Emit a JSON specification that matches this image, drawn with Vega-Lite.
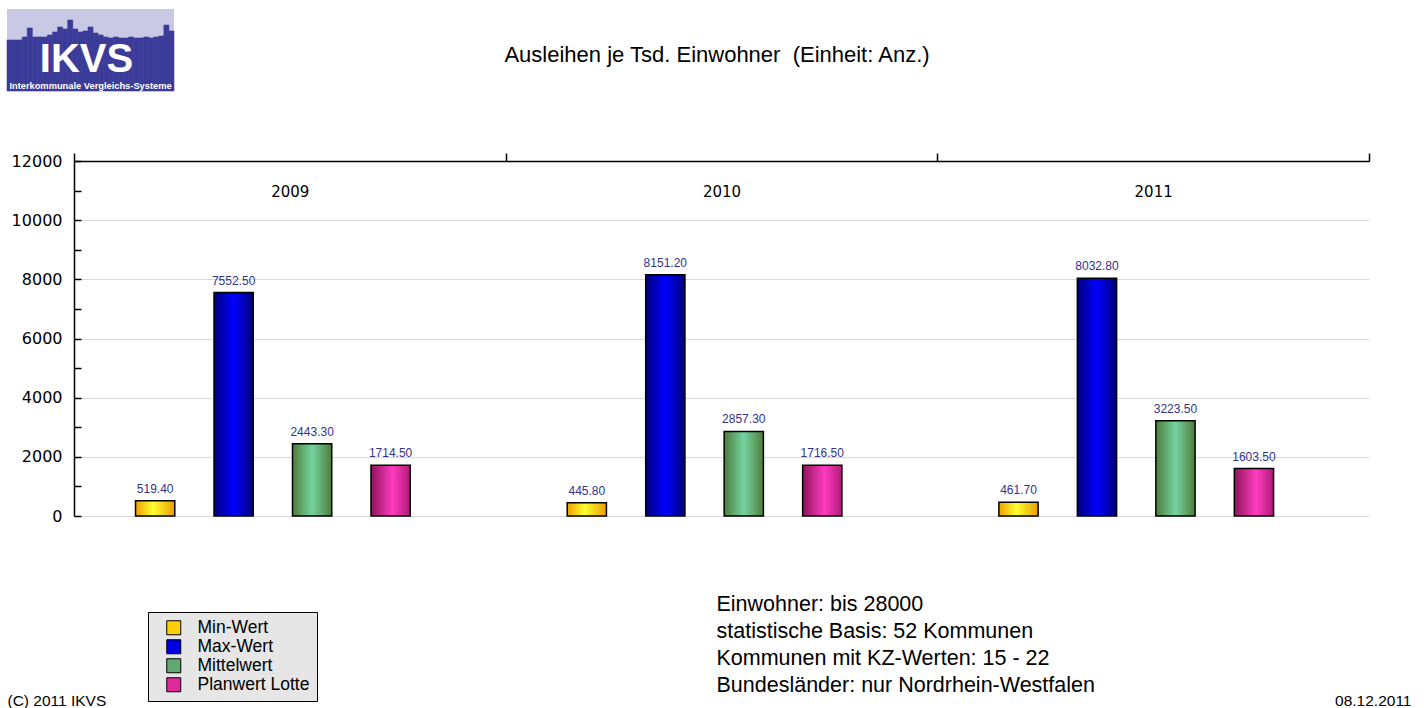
{
  "$schema": "https://vega.github.io/schema/vega-lite/v6.json",
  "padding": {"left": 6, "top": 9, "right": 0, "bottom": 0},
  "background": "white",
  "spacing": 60,
  "config": {"view": {"stroke": null}, "font": "Liberation Sans"},
  "vconcat": [
    {
      "spacing": 0,
      "hconcat": [
        {
          "width": 167,
          "height": 82,
          "view": {"fill": "#c9c9e6", "stroke": null},
          "layer": [
            {
              "data": {"values": [
                {"Spalte": 0, "Hoehe": 51}, {"Spalte": 1, "Hoehe": 51}, {"Spalte": 2, "Hoehe": 51},
                {"Spalte": 3, "Hoehe": 54}, {"Spalte": 4, "Hoehe": 63}, {"Spalte": 5, "Hoehe": 54},
                {"Spalte": 6, "Hoehe": 54}, {"Spalte": 7, "Hoehe": 54}, {"Spalte": 8, "Hoehe": 56},
                {"Spalte": 9, "Hoehe": 59}, {"Spalte": 10, "Hoehe": 64}, {"Spalte": 11, "Hoehe": 62},
                {"Spalte": 12, "Hoehe": 71}, {"Spalte": 13, "Hoehe": 62}, {"Spalte": 14, "Hoehe": 59},
                {"Spalte": 15, "Hoehe": 60}, {"Spalte": 16, "Hoehe": 64}, {"Spalte": 17, "Hoehe": 58},
                {"Spalte": 18, "Hoehe": 56}, {"Spalte": 19, "Hoehe": 54}, {"Spalte": 20, "Hoehe": 53},
                {"Spalte": 21, "Hoehe": 54}, {"Spalte": 22, "Hoehe": 53}, {"Spalte": 23, "Hoehe": 53},
                {"Spalte": 24, "Hoehe": 54}, {"Spalte": 25, "Hoehe": 53}, {"Spalte": 26, "Hoehe": 53},
                {"Spalte": 27, "Hoehe": 54}, {"Spalte": 28, "Hoehe": 53}, {"Spalte": 29, "Hoehe": 54},
                {"Spalte": 30, "Hoehe": 55}, {"Spalte": 31, "Hoehe": 66}, {"Spalte": 32, "Hoehe": 60}
              ]},
              "mark": {"type": "bar", "color": "#3b3b99", "stroke": "#3b3b99", "strokeWidth": 0.6},
              "encoding": {
                "x": {"field": "Spalte", "type": "ordinal", "axis": null, "scale": {"paddingInner": 0, "paddingOuter": 0}},
                "y": {"field": "Hoehe", "type": "quantitative", "axis": null, "scale": {"domain": [0, 82], "nice": false}}
              }
            },
            {
              "data": {"values": [{"Zeile": "IKVS"}]},
              "mark": {"type": "text", "color": "white", "font": "Liberation Sans", "fontSize": 40, "fontWeight": "bold", "baseline": "alphabetic", "dx": -4, "dy": 22},
              "encoding": {"text": {"field": "Zeile"}}
            },
            {
              "data": {"values": [{"Zeile": "Interkommunale Vergleichs-Systeme"}]},
              "mark": {"type": "text", "color": "white", "font": "Liberation Sans", "fontSize": 9.3, "fontWeight": "bold", "baseline": "alphabetic", "dy": 39},
              "encoding": {"text": {"field": "Zeile"}}
            }
          ]
        },
        {
          "width": 1084,
          "height": 82,
          "data": {"values": [{"Titel": "Ausleihen je Tsd. Einwohner\u00a0 (Einheit: Anz.)"}]},
          "mark": {"type": "text", "font": "Liberation Sans", "fontSize": 22, "color": "black", "baseline": "alphabetic", "dy": 12},
          "encoding": {"text": {"field": "Titel"}}
        }
      ]
    },
    {
      "width": 1362,
      "height": 355,
      "data": {"values": [
        {"Jahr": "2009", "Reihe": "Min-Wert", "Wert": 519.4},
        {"Jahr": "2009", "Reihe": "Max-Wert", "Wert": 7552.5},
        {"Jahr": "2009", "Reihe": "Mittelwert", "Wert": 2443.3},
        {"Jahr": "2009", "Reihe": "Planwert Lotte", "Wert": 1714.5},
        {"Jahr": "2010", "Reihe": "Min-Wert", "Wert": 445.8},
        {"Jahr": "2010", "Reihe": "Max-Wert", "Wert": 8151.2},
        {"Jahr": "2010", "Reihe": "Mittelwert", "Wert": 2857.3},
        {"Jahr": "2010", "Reihe": "Planwert Lotte", "Wert": 1716.5},
        {"Jahr": "2011", "Reihe": "Min-Wert", "Wert": 461.7},
        {"Jahr": "2011", "Reihe": "Max-Wert", "Wert": 8032.8},
        {"Jahr": "2011", "Reihe": "Mittelwert", "Wert": 3223.5},
        {"Jahr": "2011", "Reihe": "Planwert Lotte", "Wert": 1603.5}
      ]},
      "encoding": {
        "x": {
          "field": "Jahr", "type": "nominal",
          "scale": {"domain": ["2009", "2010", "2011"], "range": [67, 1362], "paddingInner": 0, "paddingOuter": 0},
          "axis": {
            "orient": "top",
            "grid": false,
            "domainColor": "black", "domainWidth": 1.5,
            "tickColor": "black", "tickWidth": 1.5, "tickSize": 8, "tickBand": "extent",
            "labelAngle": 0, "labelFont": "DejaVu Sans", "labelFontSize": 15, "labelColor": "black",
            "labelPadding": -38, "labelBaseline": "middle",
            "title": ["Einwohner: bis 28000", "statistische Basis: 52 Kommunen", "Kommunen mit KZ-Werten: 15 - 22", "Bundesländer: nur Nordrhein-Westfalen"],
            "titleX": 709, "titleY": 449, "titleAlign": "left", "titleBaseline": "alphabetic",
            "titleFont": "Liberation Sans", "titleFontSize": 21.5, "titleFontWeight": "normal",
            "titleLineHeight": 27, "titleColor": "black"
          }
        },
        "xOffset": {
          "field": "Reihe", "type": "nominal",
          "sort": ["Min-Wert", "Max-Wert", "Mittelwert", "Planwert Lotte"],
          "scale": {"paddingInner": 0.5, "paddingOuter": 1.092, "align": 0.392}
        }
      },
      "layer": [
        {
          "mark": {"type": "bar", "stroke": "black", "strokeWidth": 1.5},
          "encoding": {
            "y": {
              "field": "Wert", "type": "quantitative",
              "scale": {"domain": [0, 12000], "nice": false},
              "axis": {
                "orient": "left",
                "offset": -67,
                "values": [0, 1000, 2000, 3000, 4000, 5000, 6000, 7000, 8000, 9000, 10000, 11000, 12000],
                "format": "d",
                "labelExpr": "datum.value % 2000 === 0 ? datum.label : ''",
                "grid": true, "gridColor": "#d9d9d9", "gridWidth": 1,
                "gridOpacity": {"condition": {"test": "datum.value % 2000 === 0", "value": 1}, "value": 0},
                "tickSize": -7, "tickColor": "black", "tickWidth": 1.5,
                "domainColor": "black", "domainWidth": 1.5,
                "labelFont": "DejaVu Sans", "labelFontSize": 16, "labelColor": "black", "labelPadding": 19,
                "title": "(C) 2011 IKVS",
                "titleX": -67, "titleY": 544, "titleAngle": 0, "titleAlign": "left", "titleBaseline": "alphabetic",
                "titleFont": "Liberation Sans", "titleFontSize": 15.5, "titleFontWeight": "normal", "titleColor": "black"
              }
            },
            "color": {
              "field": "Reihe", "type": "nominal",
              "condition": [
                {"test": "datum.Reihe === 'Min-Wert'", "value": {"gradient": "linear", "x1": 0, "y1": 0, "x2": 1, "y2": 0, "stops": [{"offset": 0, "color": "#efa000"}, {"offset": 0.45, "color": "#ffff30"}, {"offset": 1, "color": "#e89c00"}]}},
                {"test": "datum.Reihe === 'Max-Wert'", "value": {"gradient": "linear", "x1": 0, "y1": 0, "x2": 1, "y2": 0, "stops": [{"offset": 0, "color": "#00007a"}, {"offset": 0.5, "color": "#0000ff"}, {"offset": 1, "color": "#00007a"}]}},
                {"test": "datum.Reihe === 'Mittelwert'", "value": {"gradient": "linear", "x1": 0, "y1": 0, "x2": 1, "y2": 0, "stops": [{"offset": 0, "color": "#4e7c3c"}, {"offset": 0.5, "color": "#74d4a0"}, {"offset": 1, "color": "#4e7c3c"}]}},
                {"test": "datum.Reihe === 'Planwert Lotte'", "value": {"gradient": "linear", "x1": 0, "y1": 0, "x2": 1, "y2": 0, "stops": [{"offset": 0, "color": "#8c1458"}, {"offset": 0.55, "color": "#ff3cc0"}, {"offset": 1, "color": "#b01a78"}]}}
              ],
              "scale": {
                "domain": ["Min-Wert", "Max-Wert", "Mittelwert", "Planwert Lotte"],
                "range": ["#ffd000", "#0000e0", "#62a872", "#e02a9c"]
              },
              "legend": {
                "orient": "none", "legendX": 141, "legendY": 603,
                "title": null,
                "fillColor": "#e6e6e6", "strokeColor": "black", "padding": 7,
                "symbolType": "square", "symbolSize": 196, "symbolStrokeColor": "black", "symbolStrokeWidth": 1,
                "symbolOffset": 10, "labelOffset": 15, "rowPadding": 0,
                "labelFont": "Liberation Sans", "labelFontSize": 17.5, "labelColor": "black"
              }
            }
          }
        },
        {
          "mark": {"type": "text", "font": "Liberation Sans", "fontSize": 12, "color": "#33338a", "baseline": "alphabetic", "dy": -8},
          "encoding": {
            "y": {
              "field": "Wert", "type": "quantitative",
              "axis": {
                "orient": "right", "domain": false, "ticks": false, "labels": false, "grid": false,
                "title": "08.12.2011",
                "titleX": 42, "titleY": 544, "titleAngle": 0, "titleAlign": "right", "titleBaseline": "alphabetic",
                "titleFont": "Liberation Sans", "titleFontSize": 15.5, "titleFontWeight": "normal", "titleColor": "black"
              }
            },
            "text": {"field": "Wert", "type": "quantitative", "format": ".2f"}
          }
        }
      ]
    }
  ]
}
